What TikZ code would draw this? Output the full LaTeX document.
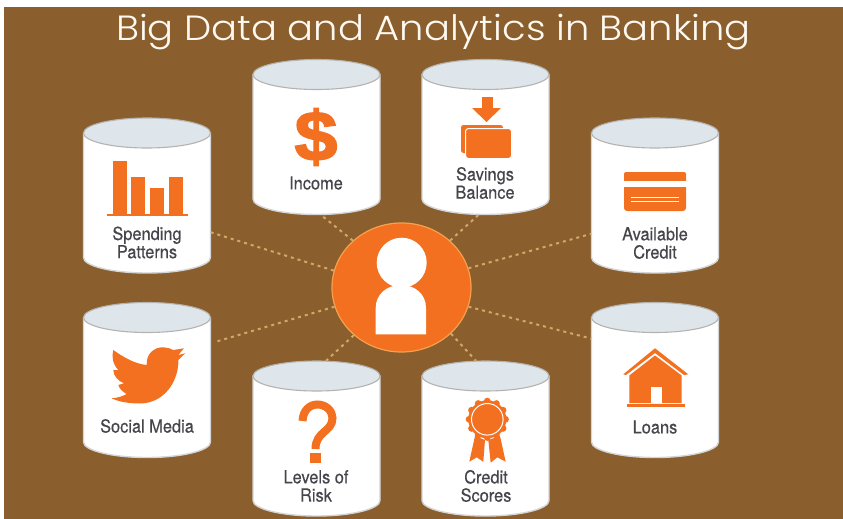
\documentclass[tikz,border=0pt]{standalone}
\usepackage{fontspec}
\usetikzlibrary{shapes.geometric}
\setmainfont{TeX Gyre Heros}
\newfontfamily\titlefont[FakeStretch=1.1]{Poppins Light}
\newfontfamily\labelfont[FakeStretch=0.91,FakeBold=0.35]{TeX Gyre Heros}
\newfontfamily\iconfont[FakeStretch=1.1,FakeBold=2.5]{Liberation Sans Bold}
\definecolor{bgbrown}{HTML}{8A5F2D}
\definecolor{iconorange}{HTML}{F2701F}
\definecolor{rimorange}{HTML}{F6A04E}
\definecolor{labelgrey}{HTML}{45454B}
\definecolor{lidblue}{HTML}{DEE6EB}
\definecolor{lidedge}{HTML}{B5B3B0}
\definecolor{bodyedge}{HTML}{D4D5D6}
\definecolor{dotline}{HTML}{D3A867}
\tikzset{
  cylbox/.style={rectangle,inner sep=0pt,minimum width=127pt,minimum height=155pt},
  labeltext/.style={text=labelgrey,align=center,inner sep=0pt,font=\labelfont\fontsize{18}{18.2}\selectfont},
  wire/.style={draw=dotline,line width=2pt,dash pattern=on 3pt off 4pt}
}
\newcommand{\drum}[3]{%
  \node[cylbox] (#1) at (#2,#3) {};
  \begin{scope}[shift={(#2,#3)}]
    \path[fill=white,draw=bodyedge,line width=1.4pt] (-63.5,-62.5) -- (-63.5,62)
      .. controls (-63.5,70.5) and (-35,77.5) .. (0,77.5)
      .. controls (35,77.5) and (63.5,70.5) .. (63.5,62) -- (63.5,-62.5) -- cycle;
    \path[fill=lidblue,draw=lidedge,line width=1.1pt] (0,-62.5) ellipse [x radius=63.5,y radius=15];
  \end{scope}}
\begin{document}
\begin{tikzpicture}[x=1pt,y=-1pt]
\useasboundingbox (0,0) rectangle (843,519);
\fill[white] (0,0) rectangle (843,519);
\fill[bgbrown] (4,7) rectangle (843,519);

\node[font=\titlefont\fontsize{35}{37}\selectfont,text=white!95!orange,inner sep=0pt] (title) at (433.5,32) {Big Data and Analytics in Banking};

\node[ellipse,inner sep=0pt,minimum width=139pt,minimum height=129pt,fill=iconorange,draw=rimorange,line width=1.2pt] (hub) at (401.5,287.5) {};
\fill[white] (401.7,262.7) circle (25);
\fill[white] (375.7,334.3) -- (375.7,308) .. controls (375.7,294) and (387,285) .. (401,285)
  .. controls (415,285) and (426,294) .. (426,308) -- (426,334.3) -- cycle;

\drum{spend}{147}{195.5}
\drum{income}{316.5}{137}
\drum{savings}{485.5}{137}
\drum{credit}{655}{195.5}
\drum{social}{147}{380}
\drum{risk}{316.5}{438.5}
\drum{scores}{485.5}{438.5}
\drum{loans}{655}{380}

\path[wire] (hub.166) -- (spend.-30);
\path[wire] (hub.136) -- (income.-87);
\path[wire] (hub.44) -- (savings.-95.5);
\path[wire] (hub.16) -- (credit.211.4);
\path[wire,shorten >=6pt] (hub.196) -- (social.30.7);
\path[wire] (hub.225) -- (risk.83.7);
\path[wire] (hub.-43) -- (scores.97.7);
\path[wire] (hub.-16) -- (loans.147.6);

% bars
\fill[iconorange] (112.7,160.7) rectangle (126.7,214);
\fill[iconorange] (131,176.7) rectangle (145,214);
\fill[iconorange] (150,188) rectangle (164,214);
\fill[iconorange] (168.7,176.7) rectangle (182.7,214);
\fill[iconorange] (107,213.5) rectangle (188,216);
\node[labeltext] (spendlabel) at (147,242.5) {Spending\\Patterns};

% dollar
\node[inner sep=0pt,text=iconorange,font=\iconfont\fontsize{70}{70}\selectfont] (dollar) at (316,137) {\$};
\node[labeltext] (incomelabel) at (316,183) {Income};

% savings
\fill[iconorange] (482,97) rectangle (493,108);
\fill[iconorange] (472,108) -- (501,108) -- (486.5,122) -- cycle;
\fill[iconorange,rounded corners=2.5pt] (461,125) rectangle (503,153);
\path[fill=iconorange,draw=white,line width=1pt,rounded corners=3pt] (465.5,128.5) rectangle (511.5,158.5);
\node[labeltext] (savingslabel) at (485,183) {Savings\\Balance};

% card
\fill[iconorange,rounded corners=2pt] (624,185) -- (624,172) -- (686,172) -- (686,185) -- cycle;
\fill[iconorange,rounded corners=3pt] (624,183) -- (686,183) -- (686,211) -- (624,211) -- cycle;
\fill[white] (622,181) rectangle (688,187);
\draw[white,line width=1pt] (631,197) -- (679,197) (631,201) -- (679,201);
\node[labeltext] (creditlabel) at (655,243) {Available\\Credit};

% bird
\fill[iconorange] (113.3,350) .. controls (123,357) and (135,364) .. (146.7,365)
  .. controls (146,354) and (154,347) .. (163.3,347.3)
  .. controls (167,347.3) and (170.5,348.5) .. (173.3,350)
  -- (184,348.3) -- (178.3,355) -- (185,353.3) -- (178.3,360)
  .. controls (179,380) and (165,403.3) .. (140,403.5)
  .. controls (130,403.5) and (119,402) .. (111.7,398.3)
  .. controls (117,398) and (122,396.5) .. (126.7,394)
  .. controls (123,392) and (119.5,389) .. (118.3,385)
  -- (124,383.3) .. controls (118,381) and (113.5,376) .. (113.3,370)
  -- (118.3,370) .. controls (112.5,364) and (111.5,356) .. (113.3,350) -- cycle;
\node[labeltext] (sociallabel) at (147,426) {Social Media};

% question
\draw[iconorange,line width=8pt] (302.5,421) .. controls (303,410) and (310,404.5) .. (317.5,404.5)
  .. controls (326,404.5) and (332.5,411) .. (332.5,418)
  .. controls (332.5,432) and (315.5,431) .. (315.5,449);
\fill[iconorange] (310,453) rectangle (321,463);
\node[labeltext] (risklabel) at (316,486) {Levels of\\Risk};

% ribbon
\fill[iconorange] (475,436) -- (485,440) -- (483.3,461.7) -- (476.7,457.3) -- (469.3,461.7) -- cycle;
\fill[iconorange] (488.3,440) -- (500,436) -- (505.7,461.7) -- (497.3,457.3) -- (490.7,462.7) -- cycle;
\foreach \a in {0,30,...,330} { \fill[iconorange] (487.3,419.3) ++(\a:18.2) circle (3.4); }
\fill[iconorange] (487.3,419.3) circle (19);
\draw[white,line width=1pt] (487.3,419.3) circle (15.8);
\node[labeltext] (scoreslabel) at (486,486) {Credit\\Scores};

% house
\fill[iconorange] (655,348.3) -- (688.3,374.3) -- (684,375) -- (655,353) -- (626,375) -- (623.3,374.3) -- cycle;
\fill[iconorange] (655,355.5) -- (681.7,375.5) -- (681.7,403) -- (629.3,403) -- (629.3,375.5) -- cycle;
\fill[white] (650.7,386.7) rectangle (661.7,403);
\fill[iconorange] (626.7,404) rectangle (685,406.5);
\node[labeltext] (loanslabel) at (655,427) {Loans};
\end{tikzpicture}
\end{document}
